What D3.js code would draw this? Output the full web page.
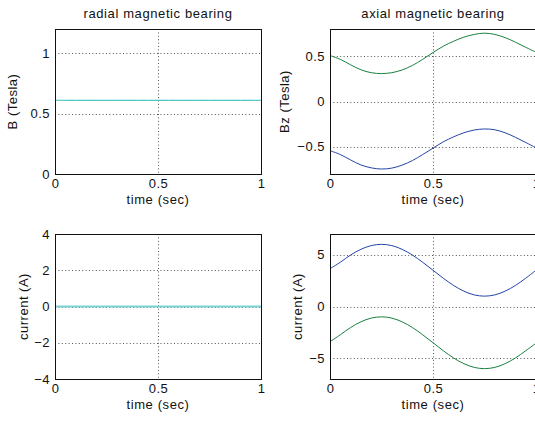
<!DOCTYPE html>
<html>
<head>
<meta charset="utf-8">
<script src="https://cdn.jsdelivr.net/npm/d3@7"></script>
<style>
  body { margin: 0; background: #fff; }
  svg { display: block; }
  text { font-family: "Liberation Sans", Arial, sans-serif; fill: #111; }
</style>
</head>
<body>
<div id="chart"></div>
<script>
// time samples (sec)
const time = [0, 0.05, 0.1, 0.15, 0.2, 0.25, 0.3, 0.35, 0.4, 0.45, 0.5,
  0.55, 0.6, 0.65, 0.7, 0.75, 0.8, 0.85, 0.9, 0.95, 1];

// radial bearing: constant field and zero current
const radialB = [0.61, 0.61, 0.61, 0.61, 0.61, 0.61, 0.61, 0.61, 0.61, 0.61, 0.61,
  0.61, 0.61, 0.61, 0.61, 0.61, 0.61, 0.61, 0.61, 0.61, 0.61];
const radialI = [0, 0, 0, 0, 0, 0, 0, 0, 0, 0, 0, 0, 0, 0, 0, 0, 0, 0, 0, 0, 0];

// axial bearing field (Tesla)
const axialB1 = [0.507, 0.465, 0.405, 0.350, 0.318, 0.308, 0.318, 0.348, 0.398, 0.465, 0.540,
  0.610, 0.665, 0.710, 0.740, 0.754, 0.740, 0.705, 0.655, 0.598, 0.544];
const axialB2 = [-0.543, -0.585, -0.645, -0.700, -0.732, -0.745, -0.735, -0.702, -0.652, -0.585, -0.515,
  -0.445, -0.390, -0.345, -0.315, -0.303, -0.312, -0.345, -0.395, -0.452, -0.510];

// axial bearing currents (A)
const axialI1 = [3.65, 4.27, 4.97, 5.52, 5.88, 6.0, 5.88, 5.52, 4.97, 4.27, 3.5,
  2.73, 2.03, 1.48, 1.12, 1.0, 1.12, 1.48, 2.03, 2.73, 3.5];
const axialI2 = [-3.4, -2.73, -2.03, -1.48, -1.12, -1.0, -1.12, -1.48, -2.03, -2.73, -3.5,
  -4.27, -4.97, -5.52, -5.88, -6.0, -5.88, -5.52, -4.97, -4.27, -3.55];

const xTicks = [0, 0.5, 1];

const cyan = "#1fb8b8", lightCyan = "#7ad3d3", green = "#1a8040", blue = "#2444a8";

const panels = [
  { x: 55, y: 29, title: "radial magnetic bearing", ylabel: "B (Tesla)", ylx: -38,
    ydomain: [0, 1.2], yticks: [0, 0.5, 1], series: [[radialB, cyan, 1]] },
  { x: 330, y: 29, title: "axial magnetic bearing", ylabel: "Bz (Tesla)", ylx: -41,
    ydomain: [-0.8, 0.8], yticks: [-0.5, 0, 0.5], series: [[axialB1, green, 1], [axialB2, blue, 1]] },
  { x: 55, y: 234, title: "", ylabel: "current (A)", ylx: -27,
    ydomain: [-4, 4], yticks: [-4, -2, 0, 2, 4], series: [[radialI, lightCyan, 2]] },
  { x: 330, y: 234, title: "", ylabel: "current (A)", ylx: -28,
    ydomain: [-7, 7], yticks: [-5, 0, 5], series: [[axialI1, blue, 1], [axialI2, green, 1]] }
];

const W = 535, H = 421;
const pw = 206, ph = 145;

const svg = d3.select("#chart").append("svg")
  .attr("width", W)
  .attr("height", H);

panels.forEach(p => {
  const g = svg.append("g").attr("transform", `translate(${p.x},${p.y})`);

  const x = d3.scaleLinear().domain([0, 1]).range([0, pw]);
  const y = d3.scaleLinear().domain(p.ydomain).range([ph, 0]);

  // dotted grid
  g.append("g")
    .selectAll("line")
    .data(xTicks.filter(d => d > 0 && d < 1))
    .join("line")
    .attr("x1", d => x(d) + 0.5).attr("x2", d => x(d) + 0.5)
    .attr("y1", 0).attr("y2", ph)
    .attr("stroke", "#555").attr("stroke-dasharray", "1,2.4");
  g.append("g")
    .selectAll("line")
    .data(p.yticks.filter(d => d > p.ydomain[0] && d < p.ydomain[1]))
    .join("line")
    .attr("x1", 0).attr("x2", pw)
    .attr("y1", d => Math.round(y(d)) + 0.5).attr("y2", d => Math.round(y(d)) + 0.5)
    .attr("stroke", "#555").attr("stroke-dasharray", "1,2.4");

  // data lines
  const line = d3.line()
    .x((d, i) => x(time[i]))
    .y(d => y(d))
    .curve(d3.curveCatmullRom);
  p.series.forEach(([vals, col, sw]) => {
    g.append("path")
      .datum(vals)
      .attr("fill", "none")
      .attr("stroke", col)
      .attr("stroke-width", sw)
      .attr("d", line);
  });

  // box
  g.append("rect")
    .attr("x", 0.5).attr("y", 0.5)
    .attr("width", pw).attr("height", ph)
    .attr("fill", "none").attr("stroke", "#111");

  // axes (labels only)
  const xAxis = g.append("g")
    .attr("transform", `translate(0,${ph})`)
    .call(d3.axisBottom(x).tickValues(xTicks).tickSize(0).tickPadding(5).tickFormat(d3.format("")));
  const yAxis = g.append("g")
    .call(d3.axisLeft(y).tickValues(p.yticks).tickSize(0).tickPadding(5).tickFormat(d3.format("")));
  [xAxis, yAxis].forEach(a => {
    a.select(".domain").remove();
    a.selectAll("text").style("font-size", "13px").attr("fill", "#111")
      .style("letter-spacing", "0.5px")
      .style("font-family", "'Liberation Sans', Arial, sans-serif");
  });

  // titles and labels
  if (p.title) {
    g.append("text")
      .attr("x", pw / 2).attr("y", -11)
      .attr("text-anchor", "middle")
      .style("font-size", "13px")
      .style("letter-spacing", "0.6px")
      .text(p.title);
  }
  g.append("text")
    .attr("x", pw / 2).attr("y", ph + 30)
    .attr("text-anchor", "middle")
    .style("font-size", "13px")
    .style("letter-spacing", "0.6px")
    .text("time (sec)");
  g.append("text")
    .attr("transform", `translate(${p.ylx},${ph / 2}) rotate(-90)`)
    .attr("text-anchor", "middle")
    .style("font-size", "13px")
    .style("letter-spacing", "0.5px")
    .text(p.ylabel);
});
</script>
</body>
</html>
